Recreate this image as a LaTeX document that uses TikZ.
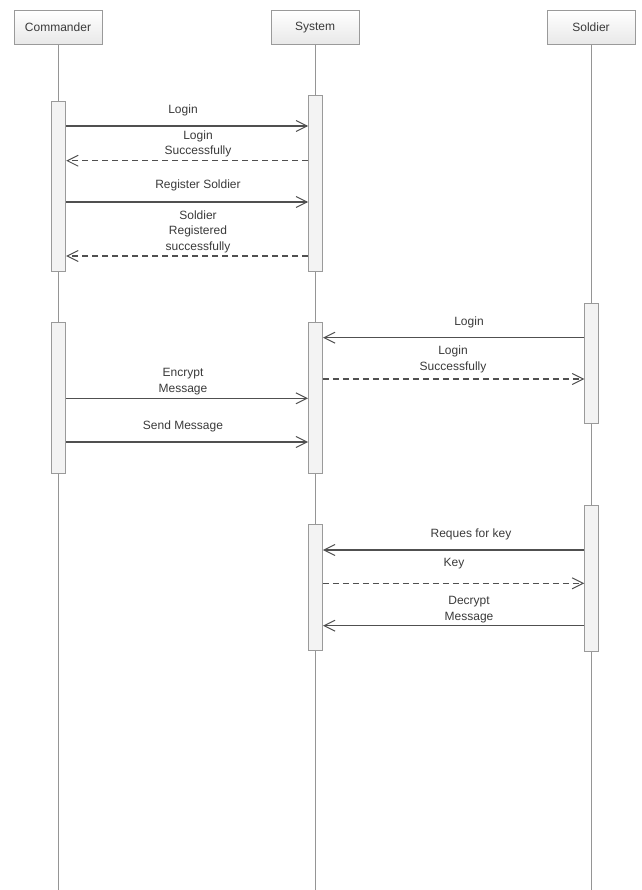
\documentclass[tikz,border=0pt]{standalone}
\usepackage{fontspec}
\setmainfont{Liberation Sans}
\usetikzlibrary{arrows.meta}
\definecolor{txt}{HTML}{3A3A3A}
\definecolor{lnc}{HTML}{505050}
\definecolor{lifec}{HTML}{959595}
\definecolor{actfill}{HTML}{F3F3F3}
\definecolor{actdraw}{HTML}{9A9A9A}
\begin{document}
\begin{tikzpicture}[x=1pt,y=-1pt,
  font=\fontsize{12}{15.5}\selectfont,
  actor/.style={draw=actdraw, line width=0.9pt, top color=white, bottom color=black!9,
    minimum width=88pt, minimum height=34pt, inner sep=0pt, text=txt},
  life/.style={draw=lifec, line width=1pt},
  act/.style={draw=actdraw, fill=actfill, line width=0.9pt, minimum width=14pt, inner sep=0pt},
  msg/.style={draw=lnc, line width=1.1pt, -{Straight Barb[length=11pt,width=11pt,line width=1pt]}},
  reply/.style={msg, dash pattern=on 6pt off 4pt},
  lbl/.style={text=txt, align=center, inner sep=0pt}
]
\useasboundingbox (0,0) rectangle (641,890);

% actors
\node[actor] (cmd) at (58,27.5) {Commander};
\node[actor] (sys) at (315,27.5) {System};
\node[actor] (sol) at (591,27.5) {Soldier};

% lifelines
\coordinate (cmdend) at (58.5,890);
\coordinate (sysend) at (315.5,890);
\coordinate (solend) at (591.5,890);
\draw[life] (cmd.south -| cmdend) -- (cmdend);
\draw[life] (sys.south -| sysend) -- (sysend);
\draw[life] (sol.south -| solend) -- (solend);

% activations
\node[act, minimum height=170pt] (ca1) at (58.7,186.7) {};
\node[act, minimum height=176pt] (sa1) at (315.6,183.6) {};
\node[act, minimum height=120pt] (so1) at (591.7,363.3) {};
\node[act, minimum height=151pt] (ca2) at (58.8,398.3) {};
\node[act, minimum height=151pt] (sa2) at (315.5,397.8) {};
\node[act, minimum height=126.4pt] (sa3) at (315.5,587.5) {};
\node[act, minimum height=145.3pt] (so2) at (591.7,578.3) {};

% messages
\draw[msg] (ca1.east |- 0,126) -- (sa1.west |- 0,126);
\node[lbl] (l1) at (183,110.7) {Login};

\draw[reply] (sa1.west |- 0,160.7) -- (ca1.east |- 0,160.7);
\node[lbl] (l2) at (198,143.9) {Login\\Successfully};

\draw[msg] (ca1.east |- 0,202) -- (sa1.west |- 0,202);
\node[lbl] (l3) at (198,185.7) {Register Soldier};

\draw[reply] (sa1.west |- 0,256) -- (ca1.east |- 0,256);
\node[lbl] (l4) at (198,231.6) {Soldier\\Registered\\successfully};

\draw[msg] (so1.west |- 0,337.7) -- (sa2.east |- 0,337.7);
\node[lbl] (l5) at (469,322.3) {Login};

\draw[reply] (sa2.east |- 0,379) -- (so1.west |- 0,379);
\node[lbl] (l6) at (453,359.5) {Login\\Successfully};

\draw[msg] (ca2.east |- 0,398.3) -- (sa2.west |- 0,398.3);
\node[lbl] (l7) at (183,381.7) {Encrypt\\Message};

\draw[msg] (ca2.east |- 0,442) -- (sa2.west |- 0,442);
\node[lbl] (l8) at (183,426) {Send Message};

\draw[msg] (so2.west |- 0,550) -- (sa3.east |- 0,550);
\node[lbl] (l9) at (471,534.3) {Reques for key};

\draw[reply] (sa3.east |- 0,583.3) -- (so2.west |- 0,583.3);
\node[lbl] (l10) at (454,563.3) {Key};

\draw[msg] (so2.west |- 0,625.7) -- (sa3.east |- 0,625.7);
\node[lbl] (l11) at (469,609.5) {Decrypt\\Message};
\end{tikzpicture}
\end{document}
